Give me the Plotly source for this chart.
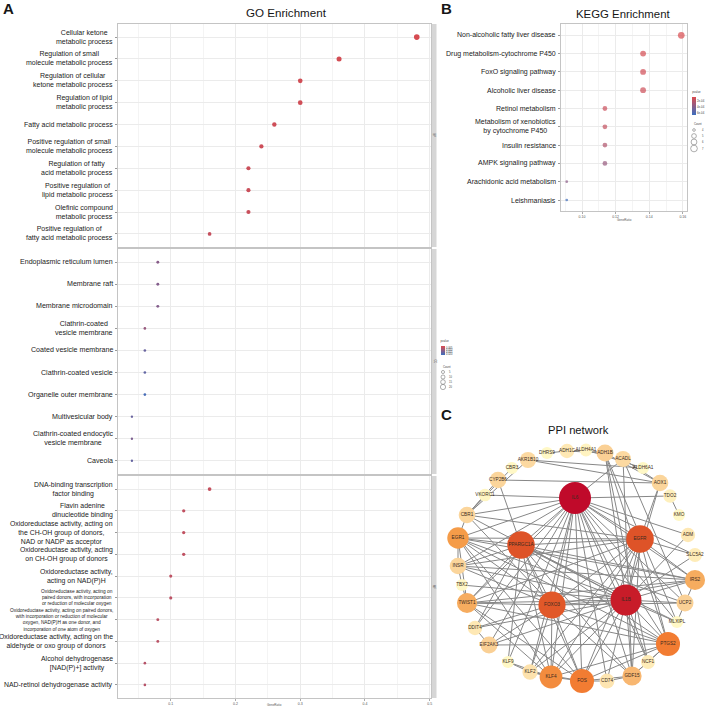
import plotly.graph_objects as go

W, H = 708, 707
FONT = "Liberation Sans, Arial, Helvetica, sans-serif"

# ---------------- GO enrichment data ----------------
bp_terms = ["Cellular ketone<br>metabolic process",
            "Regulation of small<br>molecule metabolic process",
            "Regulation of cellular<br>ketone metabolic process",
            "Regulation of lipid<br>metabolic process",
            "Fatty acid metabolic process",
            "Positive regulation of small<br>molecule metabolic process",
            "Regulation of fatty<br>acid metabolic process",
            "Positive regulation of<br>lipid metabolic process",
            "Olefinic compound<br>metabolic process",
            "Positive regulation of<br>fatty acid metabolic process"]
bp_ratio = [0.48, 0.36, 0.30, 0.30, 0.26, 0.24, 0.22, 0.22, 0.22, 0.16]
bp_count = [24, 18, 15, 15, 13, 12, 11, 11, 11, 8]
bp_p = [0.0008, 0.0012, 0.0015, 0.0016, 0.0018, 0.0020, 0.0022, 0.0024, 0.0025, 0.0030]

cc_terms = ["Endoplasmic reticulum lumen",
            "Membrane raft",
            "Membrane microdomain",
            "Clathrin-coated<br>vesicle membrane",
            "Coated vesicle membrane",
            "Clathrin-coated vesicle",
            "Organelle outer membrane",
            "Multivesicular body",
            "Clathrin-coated endocytic<br>vesicle membrane",
            "Caveola"]
cc_ratio = [0.08, 0.08, 0.08, 0.06, 0.06, 0.06, 0.06, 0.04, 0.04, 0.04]
cc_count = [4, 4, 4, 3, 3, 3, 3, 2, 2, 2]
cc_p = [0.0110, 0.0115, 0.0115, 0.0090, 0.0150, 0.0160, 0.0195, 0.0150, 0.0125, 0.0155]

mf_terms = ["DNA-binding transcription<br>factor binding",
            "Flavin adenine<br>dinucleotide binding",
            "Oxidoreductase activity, acting on<br>the CH-OH group of donors,<br>NAD or NADP as acceptor",
            "Oxidoreductase activity, acting<br>on CH-OH group of donors",
            "Oxidoreductase activity,<br>acting on NAD(P)H",
            "Oxidoreductase activity, acting on<br>paired donors, with incorporation<br>or reduction of molecular oxygen",
            "Oxidoreductase activity, acting on paired donors,<br>with incorporation or reduction of molecular<br>oxygen, NAD(P)H as one donor, and<br>incorporation of one atom of oxygen",
            "Oxidoreductase activity, acting on the<br>aldehyde or oxo group of donors",
            "Alcohol dehydrogenase<br>[NAD(P)+] activity",
            "NAD-retinol dehydrogenase activity"]
mf_ratio = [0.16, 0.12, 0.12, 0.12, 0.10, 0.10, 0.08, 0.08, 0.06, 0.06]
mf_count = [8, 6, 6, 6, 5, 5, 4, 4, 3, 3]
mf_p = [0.0030, 0.0035, 0.0035, 0.0038, 0.0040, 0.0042, 0.0045, 0.0045, 0.0050, 0.0050]

go_ontologies = ["BP", "CC", "MF"]
go_cbar_ticks = [0.005, 0.010, 0.015, 0.020]
go_count_legend = [5, 10, 15, 20]
go_x_ticks = [0.1, 0.2, 0.3, 0.4, 0.5]

# label font sizes (style)
bp_label_size = [7.0] * 10
cc_label_size = [7.1] * 10
mf_label_size = [6.9] * 5 + [4.8, 4.8] + [6.9] * 3

# ---------------- KEGG enrichment data ----------------
kegg_terms = ["Non-alcoholic fatty liver disease",
              "Drug metabolism-cytochrome P450",
              "FoxO signaling pathway",
              "Alcoholic liver disease",
              "Retinol metabolism",
              "Metabolism of xenobiotics<br>by cytochrome P450",
              "Insulin resistance",
              "AMPK signaling pathway",
              "Arachidonic acid metabolism",
              "Leishmaniasis"]
kegg_count = [7, 6, 6, 6, 5, 5, 5, 5, 4, 4]
kegg_total = 44
kegg_ratio = [c / kegg_total for c in kegg_count]
kegg_p = [0.00006, 0.00008, 0.00009, 0.00011, 0.00012, 0.00015, 0.00022, 0.00032, 0.00037, 0.00066]
kegg_cbar_ticks = [0.0002, 0.0004, 0.0006]
kegg_cbar_labels = ["2e-04", "4e-04", "6e-04"]
kegg_count_legend = [4, 5, 6, 7]
kegg_x_ticks = [0.10, 0.12, 0.14, 0.16]

# ---------------- PPI network data ----------------
ppi_genes = ["IL6", "EGFR", "PPARGC1A", "IL1B", "FOXO3", "PTGS2", "FOS", "KLF4", "EGR1",
             "TWIST1", "IRS2", "GDF15", "CBR1", "INSR", "TBX2", "DDIT4", "EIF2AK3", "KLF9",
             "KLF2", "CD74", "NCF1", "MLXIPL", "UCP2", "SLC5A2", "ADM", "KMO", "TDO2", "AOX1",
             "ALDH6A1", "ACADL", "ADH1B", "ALDH4A1", "ADH1C", "DHRS9", "AKR1B10", "CBR3",
             "CYP2B6", "VKORC1"]
ppi_x = [575, 640, 521, 626, 552, 668, 582, 551, 458, 467, 695, 632, 467, 458, 462, 475, 489, 508,
         530, 607, 648, 677, 685, 695, 688, 679, 670, 660, 643, 623, 605, 586, 567, 547, 528, 512,
         498, 485]
ppi_y = [498, 539, 545, 600, 605, 644, 681, 677, 538, 603, 580, 676, 515, 566, 585, 628, 645, 662,
         672, 681, 662, 622, 603, 555, 535, 515, 496, 483, 468, 459, 453, 450, 451, 453, 460, 468,
         480, 495]
ppi_score = [10, 8, 8, 9.5, 7.8, 6.4, 6.4, 5.8, 5.2, 4.6, 4.6, 4.2, 3, 3, 1, 2, 3.2, 1,
             2.4, 2.2, 1.8, 1, 3.2, 1.8, 2, 1, 1.5, 3, 1, 2.8, 3.2, 1.3, 2, 1, 2.8, 1,
             3, 1.2]
ppi_edges = [
    ("IL6", "EGFR"), ("IL6", "PPARGC1A"), ("IL6", "IL1B"), ("IL6", "FOXO3"), ("IL6", "PTGS2"),
    ("IL6", "FOS"), ("IL6", "KLF4"), ("IL6", "EGR1"), ("IL6", "TWIST1"), ("IL6", "IRS2"),
    ("IL6", "GDF15"), ("IL6", "VKORC1"), ("IL6", "TDO2"), ("IL6", "ACADL"), ("IL6", "ADM"),
    ("IL6", "SLC5A2"), ("IL6", "UCP2"), ("IL6", "INSR"), ("IL6", "KLF2"), ("IL6", "CD74"),
    ("IL6", "NCF1"), ("IL6", "EIF2AK3"), ("IL6", "DDIT4"), ("IL6", "MLXIPL"), ("IL6", "CBR1"),
    ("IL6", "KLF9"),
    ("IL1B", "EGFR"), ("IL1B", "PPARGC1A"), ("IL1B", "FOXO3"), ("IL1B", "PTGS2"), ("IL1B", "FOS"),
    ("IL1B", "KLF4"), ("IL1B", "EGR1"), ("IL1B", "TWIST1"), ("IL1B", "IRS2"), ("IL1B", "GDF15"),
    ("IL1B", "UCP2"), ("IL1B", "SLC5A2"), ("IL1B", "ADM"), ("IL1B", "INSR"), ("IL1B", "CD74"),
    ("IL1B", "NCF1"), ("IL1B", "MLXIPL"), ("IL1B", "KLF2"), ("IL1B", "EIF2AK3"), ("IL1B", "DDIT4"),
    ("IL1B", "CBR1"), ("IL1B", "AOX1"), ("IL1B", "ADH1B"), ("IL1B", "TBX2"),
    ("EGFR", "PPARGC1A"), ("EGFR", "FOXO3"), ("EGFR", "PTGS2"), ("EGFR", "FOS"), ("EGFR", "KLF4"),
    ("EGFR", "EGR1"), ("EGFR", "TWIST1"), ("EGFR", "IRS2"), ("EGFR", "GDF15"), ("EGFR", "INSR"),
    ("EGFR", "SLC5A2"), ("EGFR", "CBR1"), ("EGFR", "KLF2"), ("EGFR", "AOX1"),
    ("PPARGC1A", "FOXO3"), ("PPARGC1A", "PTGS2"), ("PPARGC1A", "FOS"), ("PPARGC1A", "KLF4"),
    ("PPARGC1A", "EGR1"), ("PPARGC1A", "TWIST1"), ("PPARGC1A", "IRS2"), ("PPARGC1A", "UCP2"),
    ("PPARGC1A", "INSR"), ("PPARGC1A", "CYP2B6"), ("PPARGC1A", "MLXIPL"), ("PPARGC1A", "GDF15"),
    ("PPARGC1A", "DDIT4"), ("PPARGC1A", "KLF9"),
    ("FOXO3", "PTGS2"), ("FOXO3", "FOS"), ("FOXO3", "KLF4"), ("FOXO3", "EGR1"), ("FOXO3", "TWIST1"),
    ("FOXO3", "IRS2"), ("FOXO3", "INSR"), ("FOXO3", "GDF15"), ("FOXO3", "KLF2"), ("FOXO3", "DDIT4"),
    ("FOXO3", "EIF2AK3"), ("FOXO3", "CBR1"), ("FOXO3", "UCP2"),
    ("PTGS2", "FOS"), ("PTGS2", "KLF4"), ("PTGS2", "EGR1"), ("PTGS2", "EIF2AK3"), ("PTGS2", "GDF15"),
    ("PTGS2", "NCF1"), ("PTGS2", "TWIST1"), ("PTGS2", "ADH1B"),
    ("FOS", "KLF4"), ("FOS", "EGR1"), ("FOS", "KLF2"), ("FOS", "GDF15"), ("FOS", "CD74"), ("FOS", "TWIST1"),
    ("KLF4", "EGR1"), ("KLF4", "KLF2"), ("KLF4", "KLF9"), ("KLF4", "TWIST1"),
    ("EGR1", "TWIST1"), ("EGR1", "IRS2"), ("EGR1", "INSR"), ("EGR1", "CBR1"),
    ("IRS2", "INSR"), ("IRS2", "UCP2"), ("IRS2", "TWIST1"),
    ("CYP2B6", "AOX1"), ("AKR1B10", "ALDH6A1"), ("AKR1B10", "AOX1"), ("ADH1C", "ADH1B"),
    ("ALDH4A1", "ALDH6A1"), ("ADH1B", "AOX1"), ("ACADL", "UCP2"), ("ADH1B", "MLXIPL"),
    ("DHRS9", "ADH1C"), ("CBR1", "CBR3"), ("CBR1", "VKORC1"), ("TDO2", "KMO"), ("CYP2B6", "CBR1"),
    ("AKR1B10", "CBR1"), ("ADH1C", "ALDH4A1"), ("ALDH4A1", "ADH1B"), ("ACADL", "AOX1"),
    ("GDF15", "NCF1"), ("CD74", "GDF15"), ("KLF9", "KLF2"), ("INSR", "TBX2"), ("TBX2", "TWIST1"),
    ("DDIT4", "EIF2AK3"), ("UCP2", "MLXIPL"), ("ACADL", "GDF15"), ("ADH1B", "NCF1"),
]

# ---------------- figure ----------------
RED, BLUE = "#DC4B4E", "#3C6EBF"
pscale = [[0, BLUE], [1, RED]]


def px_x(p):
    return p / W


def px_y(p):
    return 1 - p / H


fig = go.Figure()
ann = []
shapes = []

go_panels = [(bp_terms, bp_ratio, bp_count, bp_p, bp_label_size),
             (cc_terms, cc_ratio, cc_count, cc_p, cc_label_size),
             (mf_terms, mf_ratio, mf_count, mf_p, mf_label_size)]
go_ydom = [(24, 247), (249, 474), (476, 698)]
GO_X0, GO_X1 = 118, 431


def go_size(c):
    return 1.0 + 0.95 * c ** 0.5


def kegg_size(c):
    return 2.7 + 4.0 * ((c - 4) / 3) ** 0.6


for i, (terms, ratio, count, pv, lsize) in enumerate(go_panels):
    sfx = "" if i == 0 else str(i + 1)
    keys = [f"{go_ontologies[i]}{k}" for k in range(len(terms))]
    fig.add_trace(go.Scatter(
        x=ratio, y=keys, xaxis="x" + sfx, yaxis="y" + sfx, mode="markers",
        marker=dict(size=[go_size(c) for c in count], color=[-p for p in pv],
                    coloraxis="coloraxis", line=dict(width=0), opacity=1),
        showlegend=False, hoverinfo="x+y"))
    fig.update_layout(**{
        "xaxis" + sfx: dict(domain=[px_x(GO_X0), px_x(GO_X1)], anchor="y" + sfx,
                            range=[0.0185, 0.502], tickvals=go_x_ticks,
                            ticktext=[f"{t:g}" for t in go_x_ticks],
                            showticklabels=(i == 2), tickfont=dict(size=3.5, color="#555"),
                            ticks="outside" if i == 2 else "", ticklen=1.5, tickcolor="#aaa",
                            showgrid=True, gridcolor="#EBEBEB", gridwidth=0.8,
                            minor=dict(dtick=0.05, tick0=0, showgrid=True, gridcolor="#F4F4F4", gridwidth=0.5),
                            showline=True, mirror=True, linecolor="#C4C4C4", linewidth=1,
                            zeroline=False, matches=None if i == 0 else "x"),
        "yaxis" + sfx: dict(domain=[px_y(go_ydom[i][1]), px_y(go_ydom[i][0])], anchor="x" + sfx,
                            type="category", categoryorder="array", categoryarray=keys[::-1],
                            range=[-0.6, 9.6], showticklabels=False,
                            ticks="outside", ticklen=2, tickcolor="#999", tickwidth=0.6,
                            showgrid=True, gridcolor="#EBEBEB", gridwidth=0.8,
                            showline=True, mirror=True, linecolor="#C4C4C4", linewidth=1,
                            zeroline=False),
    })
    for k, t, fs in zip(keys, terms, lsize):
        ann.append(dict(text=t, x=px_x(GO_X0 - 2.8), xref="paper", y=k, yref="y" + sfx,
                        xanchor="right", yanchor="middle", align="center", showarrow=False,
                        font=dict(size=fs, color="#222", family=FONT)))

# KEGG
KX0, KX1, KY0, KY1 = 561, 687, 24.3, 211
kegg_keys = [f"K{k}" for k in range(len(kegg_terms))]
fig.add_trace(go.Scatter(
    x=kegg_ratio, y=kegg_keys, xaxis="x4", yaxis="y4", mode="markers",
    marker=dict(size=[kegg_size(c) for c in kegg_count], color=[-p for p in kegg_p],
                coloraxis="coloraxis2", line=dict(width=0)),
    showlegend=False, hoverinfo="x+y"))
kmin, kmax = min(kegg_ratio), max(kegg_ratio)
kpad = (kmax - kmin) * 0.05
fig.update_layout(
    xaxis4=dict(domain=[px_x(KX0), px_x(KX1)], anchor="y4", range=[kmin - kpad, kmax + kpad],
                tickvals=kegg_x_ticks, ticktext=[f"{t:.2f}" for t in kegg_x_ticks],
                tickfont=dict(size=3.5, color="#555"), ticks="outside", ticklen=1.5, tickcolor="#aaa",
                showgrid=True, gridcolor="#EBEBEB", gridwidth=0.8,
                minor=dict(dtick=0.01, tick0=0, showgrid=True, gridcolor="#F4F4F4", gridwidth=0.5),
                showline=True, mirror=True, linecolor="#C4C4C4", linewidth=1, zeroline=False),
    yaxis4=dict(domain=[px_y(KY1), px_y(KY0)], anchor="x4", type="category",
                categoryorder="array", categoryarray=kegg_keys[::-1],
                range=[-0.6, 9.6], showticklabels=False,
                ticks="outside", ticklen=2, tickcolor="#999", tickwidth=0.6,
                showgrid=True, gridcolor="#EBEBEB", gridwidth=0.8,
                showline=True, mirror=True, linecolor="#C4C4C4", linewidth=1, zeroline=False),
)
for k, t in zip(kegg_keys, kegg_terms):
    ann.append(dict(text=t, x=px_x(KX0 - 2.8), xref="paper", y=k, yref="y4",
                    xanchor="right", yanchor="middle", align="center", showarrow=False,
                    font=dict(size=7.0, color="#222", family=FONT)))

# PPI network
idx = {g: k for k, g in enumerate(ppi_genes)}
ex, ey = [], []
for a, b in ppi_edges:
    ex += [ppi_x[idx[a]], ppi_x[idx[b]], None]
    ey += [ppi_y[idx[a]], ppi_y[idx[b]], None]
fig.add_trace(go.Scatter(x=ex, y=ey, xaxis="x5", yaxis="y5", mode="lines",
                         line=dict(color="#878787", width=1), showlegend=False, hoverinfo="skip"))
fig.add_trace(go.Scatter(
    x=ppi_x, y=ppi_y, xaxis="x5", yaxis="y5", mode="markers+text", text=ppi_genes,
    textposition="middle center", textfont=dict(size=4.7, color="#3a2a20", family=FONT),
    marker=dict(size=[10 + 2.2 * s for s in ppi_score], color=ppi_score, coloraxis="coloraxis3",
                line=dict(width=0), opacity=1),
    showlegend=False, hoverinfo="text"))
fig.update_layout(
    xaxis5=dict(domain=[px_x(440), 1], anchor="y5", range=[440, 708], visible=False),
    yaxis5=dict(domain=[0, px_y(440)], anchor="x5", range=[707, 440], visible=False),
)

# color axes
fig.update_layout(
    coloraxis=dict(colorscale=pscale, cmin=-0.021, cmax=0,
                   colorbar=dict(x=px_x(440.5), xanchor="left", xpad=0, y=px_y(346), yanchor="middle",
                                 ypad=0, len=18 / H, lenmode="fraction", thickness=3.5,
                                 outlinewidth=0, ticks="", tickvals=[-t for t in go_cbar_ticks],
                                 ticktext=[f"{t:.3f}" for t in go_cbar_ticks],
                                 tickfont=dict(size=2.6, color="#444"),
                                 title=dict(text="pvalue", side="top", font=dict(size=2.8, color="#444")))),
    coloraxis2=dict(colorscale=pscale, cmin=-0.00068, cmax=-0.00005,
                    colorbar=dict(x=px_x(692.3), xanchor="left", xpad=0, y=px_y(101.5), yanchor="middle",
                                  ypad=0, len=27 / H, lenmode="fraction", thickness=4.4,
                                  outlinewidth=0, ticks="", tickvals=[-t for t in kegg_cbar_ticks],
                                  ticktext=kegg_cbar_labels, tickfont=dict(size=2.8, color="#444"),
                                  title=dict(text="pvalue", side="top", font=dict(size=2.8, color="#444")))),
    coloraxis3=dict(colorscale=[[0, "#FFF8C6"], [0.15, "#FDE3AE"], [0.3, "#F9C586"],
                                [0.45, "#F5A04C"], [0.6, "#F27C32"], [0.78, "#DE5228"], [1, "#C00A2A"]],
                    cmin=1, cmax=10, showscale=False),
)

# facet strips
for i, (t0, t1) in enumerate(go_ydom):
    shapes.append(dict(type="rect", xref="paper", yref="paper", x0=px_x(431.5), x1=px_x(436.5),
                       y0=px_y(t1), y1=px_y(t0), fillcolor="#D6D6D6", line=dict(width=0), layer="below"))
    ann.append(dict(text=go_ontologies[i], x=px_x(434), y=px_y((t0 + t1) / 2), xref="paper", yref="paper",
                    xanchor="center", yanchor="middle",
                    showarrow=False, textangle=90, font=dict(size=2.6, color="#555")))


# count legends (size legend)
def size_legend(x, y_title, ys, vals, diam, lx):
    ann.append(dict(text="Count", x=px_x(x - 2.5), y=px_y(y_title), xref="paper", yref="paper",
                    xanchor="left", yanchor="middle", showarrow=False, font=dict(size=2.8, color="#444")))
    for yy, v, d in zip(ys, vals, diam):
        shapes.append(dict(type="circle", xref="paper", yref="paper",
                           x0=px_x(x - d / 2), x1=px_x(x + d / 2), y0=px_y(yy + d / 2), y1=px_y(yy - d / 2),
                           line=dict(color="#777", width=0.6), fillcolor="rgba(0,0,0,0)"))
        ann.append(dict(text=str(v), x=px_x(lx), y=px_y(yy), xref="paper", yref="paper", xanchor="left",
                        yanchor="middle", showarrow=False, font=dict(size=2.6, color="#444")))


size_legend(443, 367, [372, 377, 382, 387], go_count_legend, [go_size(c) for c in go_count_legend], 447)
size_legend(694, 124, [130, 136, 142, 148.5], kegg_count_legend,
            [kegg_size(c) for c in kegg_count_legend], 700)

# axis titles
ann.append(dict(text="GeneRatio", x=px_x((GO_X0 + GO_X1) / 2), y=px_y(705.3), xref="paper", yref="paper",
                xanchor="center", yanchor="middle", showarrow=False, font=dict(size=3, color="#555")))
ann.append(dict(text="GeneRatio", x=px_x((KX0 + KX1) / 2), y=px_y(219.5), xref="paper", yref="paper",
                xanchor="center", yanchor="middle", showarrow=False, font=dict(size=3, color="#555")))

# titles and panel letters
for txt, cx, cy, fs in [("GO Enrichment", 286, 13, 11.6), ("KEGG Enrichment", 623, 13.5, 11.4),
                        ("PPI network", 578, 430, 11.2), ("<b>A</b>", 8, 8.5, 15),
                        ("<b>B</b>", 446.5, 8.5, 15), ("<b>C</b>", 446, 415, 15)]:
    ann.append(dict(text=txt, x=px_x(cx), y=px_y(cy), xref="paper", yref="paper", showarrow=False,
                    xanchor="center", yanchor="middle", font=dict(size=fs, color="#161616", family=FONT)))

fig.update_layout(
    width=W, height=H, margin=dict(l=0, r=0, t=0, b=0, pad=0),
    paper_bgcolor="white", plot_bgcolor="white",
    font=dict(family=FONT, color="#222"),
    shapes=shapes, annotations=ann, showlegend=False,
)

fig.write_html("out.html")
